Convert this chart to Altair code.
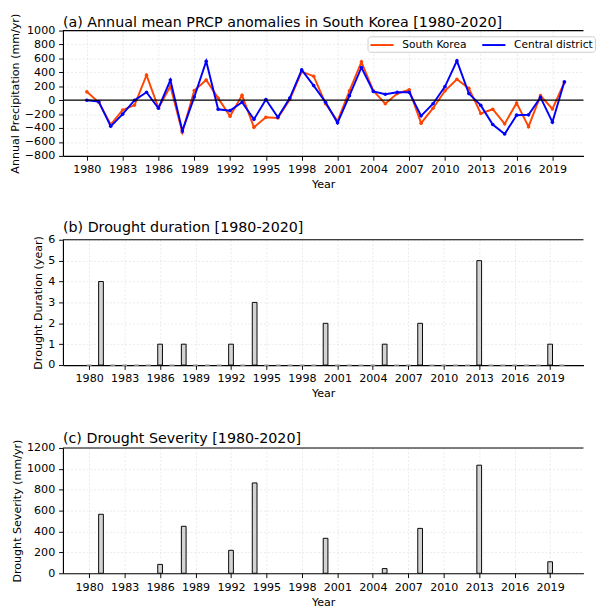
import altair as alt
import pandas as pd

years = list(range(1980, 2021))
korea = [120, -30, -350, -140, -70, 360, -110, 200, -460, 140,
         290, 30, -230, 70, -390, -245, -255, 10, 410, 345,
         -50, -300, 135, 550, 135, -50, 95, 150, -330, -115,
         135, 300, 170, -190, -130, -340, -40, -380, 65, -125, 255]
central = [0, -20, -375, -200, 0, 115, -115, 290, -440, 45,
           560, -130, -150, -30, -275, 10, -245, 30, 435, 210,
           -30, -325, 65, 470, 125, 85, 115, 115, -225, -50,
           195, 565, 95, -75, -350, -485, -215, -210, 40, -315, 265]

drought_years = [1981, 1986, 1988, 1992, 1994, 2000, 2005, 2008, 2013, 2019]
duration_vals = [4, 1, 1, 1, 3, 2, 1, 2, 5, 1]
severity_vals = [565, 85, 450, 220, 865, 335, 45, 430, 1035, 110]

x_ticks = list(range(1980, 2020, 3))
series_names = ["South Korea", "Central district"]
series_colors = ["#FF4500", "#0000FF"]

W, H = 540, 130
FONT = "DejaVu Sans"

line_df = pd.DataFrame({
    "year": years * 2,
    "value": korea + central,
    "series": ["South Korea"] * len(years) + ["Central district"] * len(years),
})
dur_map = dict(zip(drought_years, duration_vals))
dur_df = pd.DataFrame({"year": years, "value": [dur_map.get(y, 0) for y in years]})
sev_df = pd.DataFrame({"year": drought_years, "value": severity_vals})

minus_expr = "replace(format(datum.value, 'd'), '-', '\u2212')"


def x_axis():
    return alt.Axis(values=x_ticks, format="d", title="Year", labelOverlap=False)


def y_axis(vals, title):
    return alt.Axis(values=vals, title=title, labelExpr=minus_expr, labelOverlap=False)


def top_border(y_enc, top):
    return alt.Chart(pd.DataFrame({"value": [top]})).mark_rule(color="black", strokeWidth=1.2).encode(
        y=y_enc)


def panel_title(text, off):
    return alt.TitleParams(text, anchor="start", frame="group", fontSize=14.8, font=FONT,
                           fontWeight="normal", offset=off, color="black")


# Panel (a)
xa = alt.X("year:Q", scale=alt.Scale(domain=[1978, 2021.6], nice=False, zero=False), axis=x_axis())
ya = alt.Y("value:Q", scale=alt.Scale(domain=[-800, 1000], nice=False),
           axis=y_axis(list(range(-800, 1001, 200)), "Annual Precipitation (mm/yr)"))
color = alt.Color("series:N", scale=alt.Scale(domain=series_names, range=series_colors),
                  sort=series_names,
                  legend=alt.Legend(title=None, orient="none", legendX=316, legendY=6,
                                    direction="horizontal",
                                    symbolType="M-1,0H3", symbolStrokeWidth=2, symbolSize=144,
                                    strokeColor="#cccccc", fillColor="white", padding=2,
                                    cornerRadius=3, labelFontSize=11, labelFont=FONT,
                                    labelOffset=20, columnPadding=12, labelLimit=200))

base_a = alt.Chart(line_df)
lines = []
for name in series_names:
    lines.append(
        base_a.transform_filter(alt.datum.series == name)
        .mark_line(strokeWidth=2, point=alt.OverlayMarkDef(size=14, filled=True))
        .encode(x=xa, y=ya, color=color)
    )
zero_rule = alt.Chart(pd.DataFrame({"value": [0]})).mark_rule(color="black", strokeWidth=1.3).encode(y=ya)
panel_a = alt.layer(*lines, zero_rule, top_border(ya, 1000)).properties(
    width=W, height=H,
    title=panel_title("(a) Annual mean PRCP anomalies in South Korea [1980-2020]", -17.5))

# Panel (b)
xb = alt.X("x0:Q", scale=alt.Scale(domain=[1977.78, 2021.82], nice=False, zero=False), axis=x_axis())
yb = alt.Y("value:Q", scale=alt.Scale(domain=[0, 6], nice=False),
           axis=y_axis(list(range(0, 7)), "Drought Duration (year)"))
bars_b = alt.Chart(dur_df).transform_calculate(
    x0="datum.year - 0.2", x1="datum.year + 0.2", y0="0"
).mark_rect(fill="#d3d3d3", strokeWidth=1).encode(
    x=xb, x2="x1:Q", y=yb, y2="y0:Q",
    stroke=alt.condition(alt.datum.value > 0, alt.value("black"), alt.value("#aaaaaa")),
)
panel_b = alt.layer(bars_b, top_border(yb, 6)).properties(
    width=W, height=H, title=panel_title("(b) Drought duration [1980-2020]", -0.5))

# Panel (c)
yc = alt.Y("value:Q", scale=alt.Scale(domain=[0, 1200], nice=False),
           axis=y_axis(list(range(0, 1201, 200)), "Drought Severity (mm/yr)"))
bars_c = alt.Chart(sev_df).transform_calculate(
    x0="datum.year - 0.2", x1="datum.year + 0.2", y0="0"
).mark_rect(fill="#d3d3d3", stroke="black", strokeWidth=1).encode(
    x=xb, x2="x1:Q", y=yc, y2="y0:Q",
)
panel_c = alt.layer(bars_c, top_border(yc, 1200)).properties(
    width=W, height=H, title=panel_title("(c) Drought Severity [1980-2020]", -7))

top_two = alt.vconcat(panel_a, panel_b, spacing=30)
chart = alt.vconcat(top_two, panel_c, spacing=33).properties(
    padding={"left": 1, "top": -6, "right": 0, "bottom": 0}
).configure_view(stroke=None).configure_axis(
    labelFont=FONT, titleFont=FONT, labelFontSize=11.5, titleFontSize=11.5, titleFontWeight="normal",
    labelColor="black", titleColor="black", domainColor="black", tickColor="black",
    tickSize=4.5, labelPadding=4, titlePadding=4, domainWidth=1.2,
    gridColor="#e4e4e4", gridWidth=0.8, gridDash=[2, 2]
)

chart.save("out.html", embed_options={"renderer": "svg", "actions": False})
